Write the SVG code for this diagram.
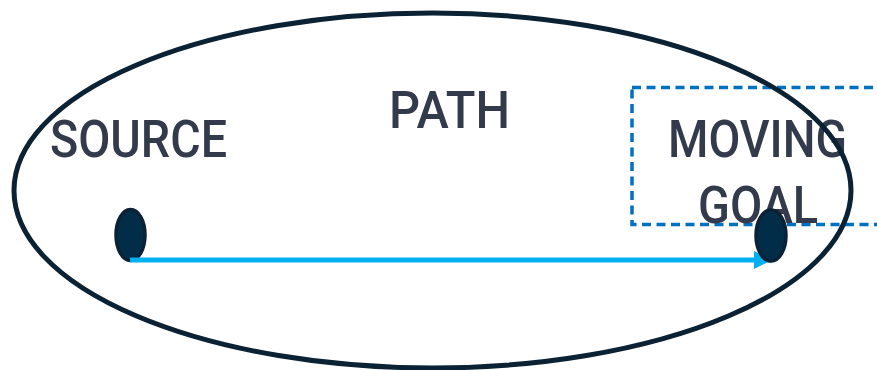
<svg xmlns="http://www.w3.org/2000/svg" width="877" height="370" viewBox="0 0 877 370">
<style>
.lbl{font-family:Roboto,"Liberation Sans",sans-serif;font-size:52px;font-weight:500;fill:#323a4c}
.dot{fill:#022d48;stroke:#0b2236;stroke-width:3.5}
.edge{stroke:#00b0f0;stroke-width:5;fill:none}
</style>
<defs>
<marker id="ah" viewBox="0 0 10 10" refX="10" refY="5" markerWidth="4" markerHeight="3.6" markerUnits="strokeWidth" orient="auto">
<path d="M0,0 L10,5 L0,10 Z" fill="#00b0f0"/>
</marker>
</defs>
<g id="goal-region">
<rect x="632" y="87.5" width="260" height="137" fill="none" stroke="#0070c0" stroke-width="3.5" stroke-dasharray="9,5.5"/>
<text class="lbl" x="668" y="157" textLength="179" lengthAdjust="spacingAndGlyphs">MOVING</text>
<text class="lbl" x="698" y="223" textLength="120" lengthAdjust="spacingAndGlyphs">GOAL</text>
</g>
<g id="path-region">
<ellipse cx="432.5" cy="190.5" rx="418.5" ry="177.5" fill="none" stroke="#0a2233" stroke-width="5"/>
<text class="lbl" x="389" y="128" textLength="121" lengthAdjust="spacingAndGlyphs">PATH</text>
</g>
<g id="source">
<text class="lbl" x="50" y="157" textLength="177" lengthAdjust="spacingAndGlyphs">SOURCE</text>
<ellipse class="dot" cx="130.5" cy="235" rx="14.5" ry="25.5"/>
</g>
<g id="connectors">
<line class="edge" x1="130" y1="260" x2="772" y2="260" marker-end="url(#ah)"/>
</g>
<g id="goal">
<ellipse class="dot" cx="771" cy="235.5" rx="15" ry="25.5"/>
</g>
</svg>
